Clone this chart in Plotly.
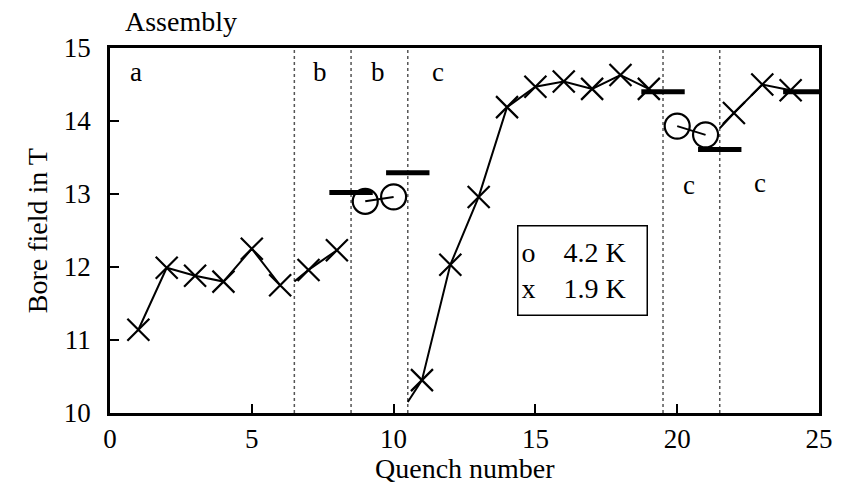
import plotly.graph_objects as go

# ---- data ----
quench_19K = [1, 2, 3, 4, 5, 6, 7, 8, 11, 12, 13, 14, 15, 16, 17, 18, 19, 22, 23, 24]
field_19K = [11.14, 11.99, 11.88, 11.80, 12.25, 11.75, 11.96, 12.23,
             10.45, 12.03, 12.96, 14.19, 14.47, 14.54, 14.44, 14.63, 14.44,
             14.11, 14.50, 14.42]
run_19K = [0, 0, 0, 0, 0, 0, 1, 1, 2, 2, 2, 2, 2, 2, 2, 2, 2, 3, 3, 3]

quench_42K = [9, 10, 20, 21]
field_42K = [12.90, 12.96, 13.93, 13.81]
run_42K = [0, 0, 1, 1]

# connection lines start at the region boundary (run index -> start point)
link_run = [1, 2, 3]
link_start_x = [6.5, 10.5, 21.5]
link_start_y = [11.80, 10.15, 13.90]

limit_x = [8.5, 10.5, 19.5, 21.5, 24.5]
limit_y = [13.02, 13.29, 14.40, 13.61, 14.40]

boundaries = [6.5, 8.5, 10.5, 19.5, 21.5]

region_labels = ["a", "b", "b", "c", "c", "c"]
region_x = [0.92, 7.42, 9.46, 11.57, 20.43, 22.92]
region_y = [14.67, 14.67, 14.67, 14.67, 13.12, 13.15]

x_ticks = [0, 5, 10, 15, 20, 25]
y_ticks = [10, 11, 12, 13, 14, 15]

FONT = "Liberation Serif"
FS = 27

fig = go.Figure()

# lines for 1.9 K runs
for r in sorted(set(run_19K)):
    xs = [q for q, g in zip(quench_19K, run_19K) if g == r]
    ys = [f for f, g in zip(field_19K, run_19K) if g == r]
    if r in link_run:
        i = link_run.index(r)
        xs = [link_start_x[i]] + xs
        ys = [link_start_y[i]] + ys
    fig.add_trace(go.Scatter(x=xs, y=ys, mode="lines",
                             line=dict(color="black", width=2), showlegend=False,
                             hoverinfo="skip"))

# lines for 4.2 K runs
for r in sorted(set(run_42K)):
    xs = [q for q, g in zip(quench_42K, run_42K) if g == r]
    ys = [f for f, g in zip(field_42K, run_42K) if g == r]
    fig.add_trace(go.Scatter(x=xs, y=ys, mode="lines",
                             line=dict(color="black", width=2), showlegend=False,
                             hoverinfo="skip"))

# crosses (1.9 K)
fig.add_trace(go.Scatter(x=quench_19K, y=field_19K, mode="markers",
                         marker=dict(symbol="x-thin", size=22, color="black",
                                     line=dict(color="black", width=2.2)),
                         showlegend=False))
# circles (4.2 K)
fig.add_trace(go.Scatter(x=quench_42K, y=field_42K, mode="markers",
                         marker=dict(symbol="circle-open", size=25, color="black",
                                     line=dict(color="black", width=2.2)),
                         showlegend=False))
# limit dashes
fig.add_trace(go.Scatter(x=limit_x, y=limit_y, mode="markers",
                         marker=dict(symbol="line-ew", size=31, color="black",
                                     line=dict(color="black", width=5)),
                         showlegend=False))

# boundary lines
for b in boundaries:
    fig.add_shape(type="line", xref="x", yref="y", x0=b, x1=b, y0=10, y1=15,
                  line=dict(color="#555555", width=1.5, dash="dot"), layer="below")

# region labels
for t, x, y in zip(region_labels, region_x, region_y):
    fig.add_annotation(x=x, y=y, xref="x", yref="y", text=t, showarrow=False,
                       font=dict(family=FONT, size=FS, color="black"))

fig.add_annotation(x=0.018, y=1.072, xref="paper", yref="paper", text="Assembly",
                   xanchor="left", yanchor="middle", showarrow=False,
                   font=dict(family=FONT, size=28, color="black"))

fig.add_annotation(x=16.67, y=11.95, xref="x", yref="y",
                   text="o&nbsp;&nbsp;&nbsp;&nbsp;4.2 K<br>x&nbsp;&nbsp;&nbsp;&nbsp;1.9 K",
                   align="left", showarrow=False, xanchor="center", yanchor="middle",
                   width=122, height=82,
                   bordercolor="black", borderwidth=1.5, borderpad=3, bgcolor="white",
                   font=dict(family=FONT, size=28, color="black"))

# axis titles
fig.add_annotation(x=0.5, y=-0.153, xref="paper", yref="paper", text="Quench number",
                   xanchor="center", yanchor="middle", showarrow=False,
                   font=dict(family=FONT, size=28, color="black"))
fig.add_annotation(x=-0.102, y=0.5, xref="paper", yref="paper", text="Bore field in T",
                   xanchor="center", yanchor="middle", showarrow=False, textangle=-90,
                   font=dict(family=FONT, size=28, color="black"))

axis_common = dict(showline=True, linecolor="black", linewidth=2.5, mirror=True,
                   ticks="inside", ticklen=9, tickwidth=2, tickcolor="black",
                   showgrid=False, zeroline=False, automargin=False,
                   tickfont=dict(family=FONT, size=FS, color="black"))

fig.update_layout(
    width=842, height=491,
    margin=dict(l=110, r=23, t=48, b=78),
    paper_bgcolor="white", plot_bgcolor="white",
    xaxis=dict(range=[0, 25], tickvals=x_ticks, ticklabelstandoff=0, **axis_common),
    yaxis=dict(range=[10, 15], tickvals=y_ticks, ticklabelstandoff=11, **axis_common),
)

fig.write_html("out.html", config={"displayModeBar": False},
               post_script="document.body.style.margin='0px';document.body.style.overflow='hidden';")
